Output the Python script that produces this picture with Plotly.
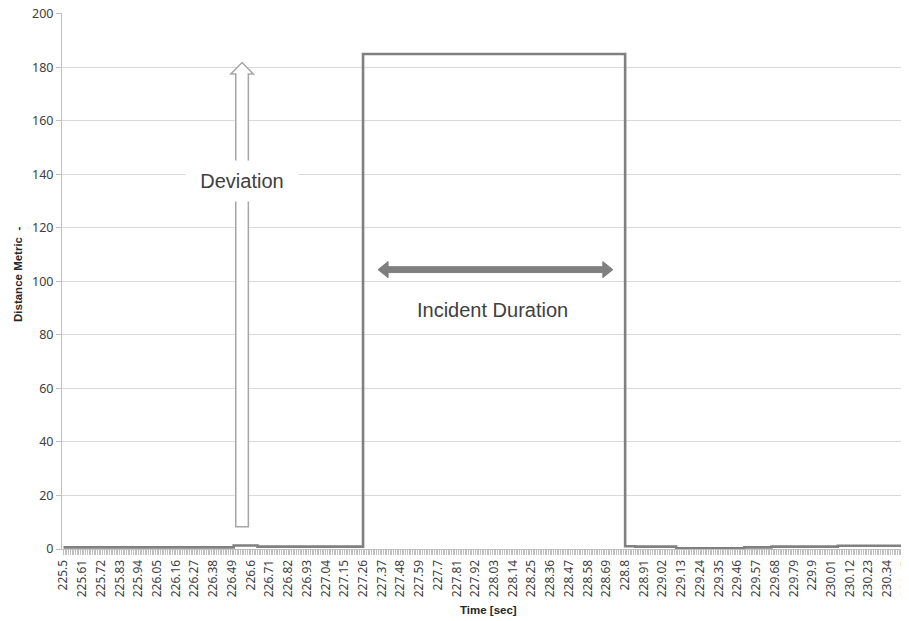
import plotly.graph_objects as go

# ---- data ----
# step breakpoints (time in seconds, distance metric); the value holds until the next breakpoint
time_s = [225.50, 226.50, 226.64, 227.26, 228.80, 228.86, 229.10, 229.50, 229.66, 230.05, 230.45]
distance = [0.6, 1.3, 0.9, 185.0, 1.0, 0.9, 0.3, 0.6, 0.9, 1.2, 1.2]

tick_labels = ["225.5", "225.61", "225.72", "225.83", "225.94", "226.05", "226.16", "226.27",
               "226.38", "226.49", "226.6", "226.71", "226.82", "226.93", "227.04", "227.15",
               "227.26", "227.37", "227.48", "227.59", "227.7", "227.81", "227.92", "228.03",
               "228.14", "228.25", "228.36", "228.47", "228.58", "228.69", "228.8", "228.91",
               "229.02", "229.13", "229.24", "229.35", "229.46", "229.57", "229.68", "229.79",
               "229.9", "230.01", "230.12", "230.23", "230.34", "230.45"]
tick_values = [float(s) for s in tick_labels]

# ---- annotation geometry (data units) ----
dev_x = 226.549
dev_shaft_hw, dev_head_hw = 0.037, 0.066
dev_bottom, dev_head_base, dev_tip = 8.3, 177.5, 181.8

inc_left, inc_right, inc_y = 227.348, 228.728, 104.4
inc_head_len, inc_bar_hh, inc_head_hh = 0.059, 1.1, 3.0

# page has an 8px body margin, so the figure is sized to fill the rest of the window
OFF = 8
W, H = 909 - OFF, 621 - OFF
ml, mt, mb, mr = 62 - OFF, 13 - OFF, 72, 0
pw, ph = W - ml - mr, H - mt - mb


def px_to_paper(px, py):
    # px, py are positions in the window screenshot
    return (px - OFF - ml) / pw, 1 - (py - OFF - mt) / ph


fig = go.Figure()
fig.add_trace(go.Scatter(
    x=time_s, y=distance, mode="lines", line_shape="hv",
    line=dict(color="#808080", width=2.6), showlegend=False, hoverinfo="skip"))

dev_path = (f"M {dev_x-dev_shaft_hw},{dev_bottom} L {dev_x-dev_shaft_hw},{dev_head_base} "
            f"L {dev_x-dev_head_hw},{dev_head_base} L {dev_x},{dev_tip} "
            f"L {dev_x+dev_head_hw},{dev_head_base} L {dev_x+dev_shaft_hw},{dev_head_base} "
            f"L {dev_x+dev_shaft_hw},{dev_bottom} Z")
L, R = inc_left, inc_right
inc_path = (f"M {L},{inc_y} L {L+inc_head_len},{inc_y+inc_head_hh} L {L+inc_head_len},{inc_y+inc_bar_hh} "
            f"L {R-inc_head_len},{inc_y+inc_bar_hh} L {R-inc_head_len},{inc_y+inc_head_hh} L {R},{inc_y} "
            f"L {R-inc_head_len},{inc_y-inc_head_hh} L {R-inc_head_len},{inc_y-inc_bar_hh} "
            f"L {L+inc_head_len},{inc_y-inc_bar_hh} L {L+inc_head_len},{inc_y-inc_head_hh} Z")

fig.add_shape(type="path", path=dev_path, xref="x", yref="y",
              fillcolor="white", line=dict(color="#a6a6a6", width=1.5), layer="above")
fig.add_shape(type="path", path=inc_path, xref="x", yref="y",
              fillcolor="#7f7f7f", line=dict(color="#7f7f7f", width=1), layer="above")

fig.add_annotation(x=dev_x, y=137.4, xref="x", yref="y", text="Deviation", showarrow=False,
                   xanchor="center", yanchor="middle",
                   font=dict(family="Liberation Sans, Arial, sans-serif", size=20, color="#404040"),
                   bgcolor="white", width=110, height=38)
fig.add_annotation(x=228.018, y=89.2, xref="x", yref="y", text="Incident Duration", showarrow=False,
                   xanchor="center", yanchor="middle",
                   font=dict(family="Liberation Sans, Arial, sans-serif", size=20, color="#404040"))

# axis titles
tx, ty = px_to_paper(18, 275)
fig.add_annotation(x=tx, y=ty, xref="paper", yref="paper", text="<b>Distance Metric  -</b>",
                   showarrow=False, textangle=-90, xanchor="center", yanchor="middle",
                   font=dict(family="Liberation Sans, Arial, sans-serif", size=11.5, color="#262626"))
tx, ty = px_to_paper(488, 610)
fig.add_annotation(x=tx, y=ty, xref="paper", yref="paper", text="<b>Time [sec]</b>",
                   showarrow=False, xanchor="center", yanchor="middle",
                   font=dict(family="Liberation Sans, Arial, sans-serif", size=11.5, color="#262626"))

fig.update_layout(
    width=W, height=H, margin=dict(l=ml, r=mr, t=mt, b=mb, autoexpand=False),
    paper_bgcolor="white", plot_bgcolor="white",
    font=dict(family="Noto Sans, Liberation Sans, sans-serif", color="#404040"),
    xaxis=dict(range=[225.491, 230.468], tickmode="array", tickvals=tick_values, ticktext=tick_labels,
               tickangle=-90, tickfont=dict(size=12, color="#404040"),
               ticks="outside", ticklen=5, tickcolor="#bfbfbf", tickwidth=1,
               minor=dict(dtick=0.01, tick0=225.5, ticks="outside", ticklen=5, tickcolor="#c0c0c0",
                          tickwidth=1, showgrid=False),
               showgrid=False, zeroline=False, showline=True, linecolor="#bfbfbf", linewidth=1,
               ticklabeloverflow="allow", automargin=False),
    yaxis=dict(range=[0, 200.3], dtick=20, tick0=0, tickfont=dict(size=12.5, color="#404040"),
               ticks="outside", ticklen=5, tickcolor="#bfbfbf",
               showgrid=True, gridcolor="#d9d9d9", gridwidth=1, zeroline=False,
               showline=True, linecolor="#bfbfbf", linewidth=1, automargin=False,
               ticklabeloverflow="allow"),
)

fig.write_html("out.html")
